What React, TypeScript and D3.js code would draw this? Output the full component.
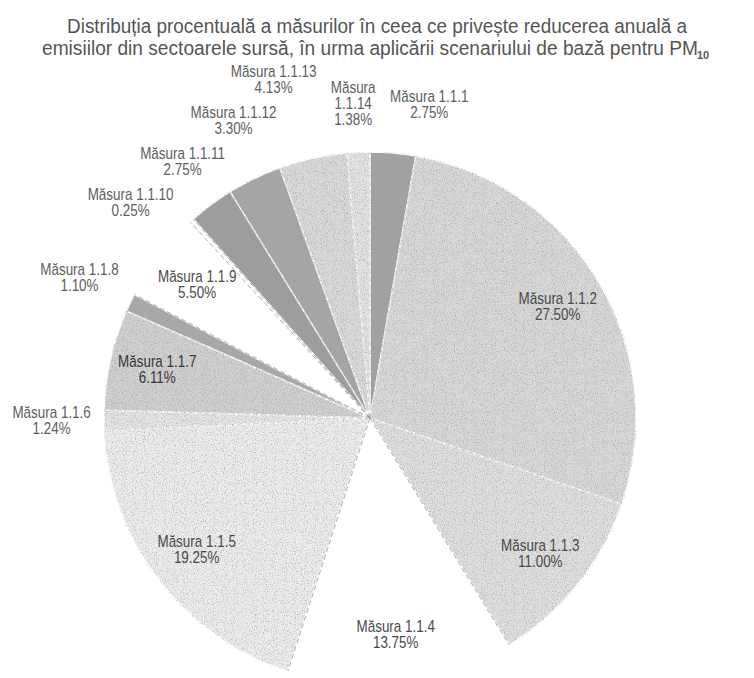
import React from 'react';
import * as d3 from 'd3';

const categories = [
  'Măsura 1.1.1', 'Măsura 1.1.2', 'Măsura 1.1.3', 'Măsura 1.1.4', 'Măsura 1.1.5',
  'Măsura 1.1.6', 'Măsura 1.1.7', 'Măsura 1.1.8', 'Măsura 1.1.9', 'Măsura 1.1.10',
  'Măsura 1.1.11', 'Măsura 1.1.12', 'Măsura 1.1.13', 'Măsura\n1.1.14',
];
const values = [2.75, 27.5, 11.0, 13.75, 19.25, 1.24, 6.11, 1.10, 5.50, 0.25, 2.75, 3.30, 4.13, 1.38];
const sliceColors = [
  '#a2a2a2', '#d8d8d8', '#dfdfdf', '#ffffff', '#ededed', '#e4e4e4', '#d0d0d0',
  '#a9a9a9', '#ffffff', '#ffffff', '#9d9d9d', '#a6a6a6', '#d9d9d9', '#e3e3e3',
];
const titleLine1 = 'Distribuția procentuală a măsurilor în ceea ce privește reducerea anuală a';
const titleLine2 = 'emisiilor din sectoarele sursă, în urma aplicării scenariului de bază pentru PM';
const titleSub = '10';

const W = 754;
const H = 678;
const cx = 370;
const cy = 418;
const r = 266;
const insideThreshold = 5;
const fmt = (v: number) => d3.format('.2f')(v) + '%';

type Lab = { i: number; lines: string[]; x: number; y: number; tx: number; ty: number; w: number; h: number; outside: boolean };

function layoutLabels(arcs: d3.PieArcDatum<number>[]): Lab[] {
  const labs: Lab[] = arcs.map((d, i) => {
    const lines = [...categories[i].split('\n'), fmt(values[i])];
    const maxChars = d3.max(lines, (l) => l.length) as number;
    const outside = values[i] < insideThreshold;
    const a = (d.startAngle + d.endAngle) / 2;
    const R = outside ? r * 1.18 : r * 0.82;
    const x = cx + R * Math.sin(a);
    const y = cy - R * Math.cos(a);
    return { i, lines, x, y, tx: x, ty: y, w: maxChars * 6.9 + 14, h: lines.length * 16 + 9, outside };
  });
  const out = labs.filter((l) => l.outside);
  for (let it = 0; it < 400; it++) {
    for (let p = 0; p < out.length; p++) {
      for (let q = p + 1; q < out.length; q++) {
        const A = out[p];
        const B = out[q];
        const dx = B.x - A.x;
        const dy = B.y - A.y;
        const ox = (A.w + B.w) / 2 - Math.abs(dx);
        const oy = (A.h + B.h) / 2 - Math.abs(dy);
        if (ox > 0 && oy > 0) {
          if (ox < oy) {
            const s = (dx >= 0 ? 1 : -1) * ox * 0.5;
            A.x -= s; B.x += s;
          } else {
            const s = (dy >= 0 ? 1 : -1) * oy * 0.5;
            A.y -= s; B.y += s;
          }
        }
      }
    }
    for (const l of out) {
      if (it < 320) {
        l.x += 0.03 * (l.tx - l.x);
        l.y += 0.03 * (l.ty - l.y);
      }
      const px = Math.max(l.x - l.w / 2, Math.min(cx, l.x + l.w / 2));
      const py = Math.max(l.y - l.h / 2, Math.min(cy, l.y + l.h / 2));
      const d = Math.hypot(px - cx, py - cy);
      const minD = r + 4;
      if (d < minD && d > 0) {
        l.x += ((px - cx) / d) * (minD - d);
        l.y += ((py - cy) / d) * (minD - d);
      }
    }
  }
  return labs;
}

export default function App() {
  const pie = d3.pie<number>().sort(null).value((d) => d).startAngle(0).endAngle(2 * Math.PI);
  const arcs = pie(values);
  const arc = d3.arc<d3.PieArcDatum<number>>().innerRadius(0).outerRadius(r);
  const labs = layoutLabels(arcs);

  const isWhite = (i: number) => sliceColors[(i + values.length) % values.length] === '#ffffff';

  return (
    <svg width={W} height={H} style={{ position: 'absolute', left: 0, top: 0, background: '#fff' }}>
      <defs>
        <filter id="grain" x="0" y="0" width="100%" height="100%">
          <feTurbulence type="fractalNoise" baseFrequency="0.9" numOctaves="2" seed="4" result="noise" />
          <feColorMatrix in="noise" type="matrix"
            values="0 0 0 0 0.35  0 0 0 0 0.35  0 0 0 0 0.35  2.2 0 0 0 -1.05" result="spk" />
          <feComposite in="spk" in2="SourceGraphic" operator="in" result="spkIn" />
          <feMerge>
            <feMergeNode in="SourceGraphic" />
            <feMergeNode in="spkIn" />
          </feMerge>
        </filter>
      </defs>
      <g fontFamily="'Liberation Sans', Arial, sans-serif" fill="#555555" fontSize={21}>
        <g transform="translate(67,33) scale(0.86,1)">
          <text x={0} y={0} textLength={620 / 0.86} lengthAdjust="spacingAndGlyphs">{titleLine1}</text>
        </g>
        <g transform="translate(42,55) scale(0.86,1)">
          <text x={0} y={0} textLength={656 / 0.86} lengthAdjust="spacingAndGlyphs">{titleLine2}</text>
        </g>
        <text x={697} y={59} fontSize={11} fontWeight="bold">{titleSub}</text>
      </g>
      <g transform={`translate(${cx},${cy})`}>
        <g filter="url(#grain)">
          {arcs.map((d, i) =>
            isWhite(i) ? null : (
              <path key={i} d={arc(d) as string} fill={sliceColors[i]} stroke="#ffffff" strokeWidth={1.4} />
            )
          )}
        </g>
        {arcs.map((d, i) =>
          isWhite(i) ? (
            <path key={'w' + i} d={arc(d) as string} fill="#ffffff" stroke="#ffffff" strokeWidth={1.4} />
          ) : null
        )}
        {arcs.map((d, i) => {
          const a = d.startAngle;
          const strong = isWhite(i) || isWhite(i - 1);
          return (
            <line key={'e' + i} x1={0} y1={0} x2={r * Math.sin(a)} y2={-r * Math.cos(a)} stroke="#8a8a8a"
              strokeWidth={0.8} strokeDasharray="5 3" opacity={strong ? 0.9 : 0.35} />
          );
        })}
      </g>
      <g fontFamily="'Liberation Sans', Arial, sans-serif" fontSize={16} textAnchor="middle">
        {labs.map((l) => {
          const top = l.y - ((l.lines.length - 1) * 16) / 2 + 5;
          return (
            <g key={l.i} transform={`translate(${l.x},${top}) scale(0.84,1)`} fill={l.i === 6 ? '#383838' : l.outside ? '#5e5e5e' : '#4a4a4a'}>
              {l.lines.map((t, j) => (
                <text key={j} x={0} y={j * 16}>{t}</text>
              ))}
            </g>
          );
        })}
      </g>
    </svg>
  );
}
